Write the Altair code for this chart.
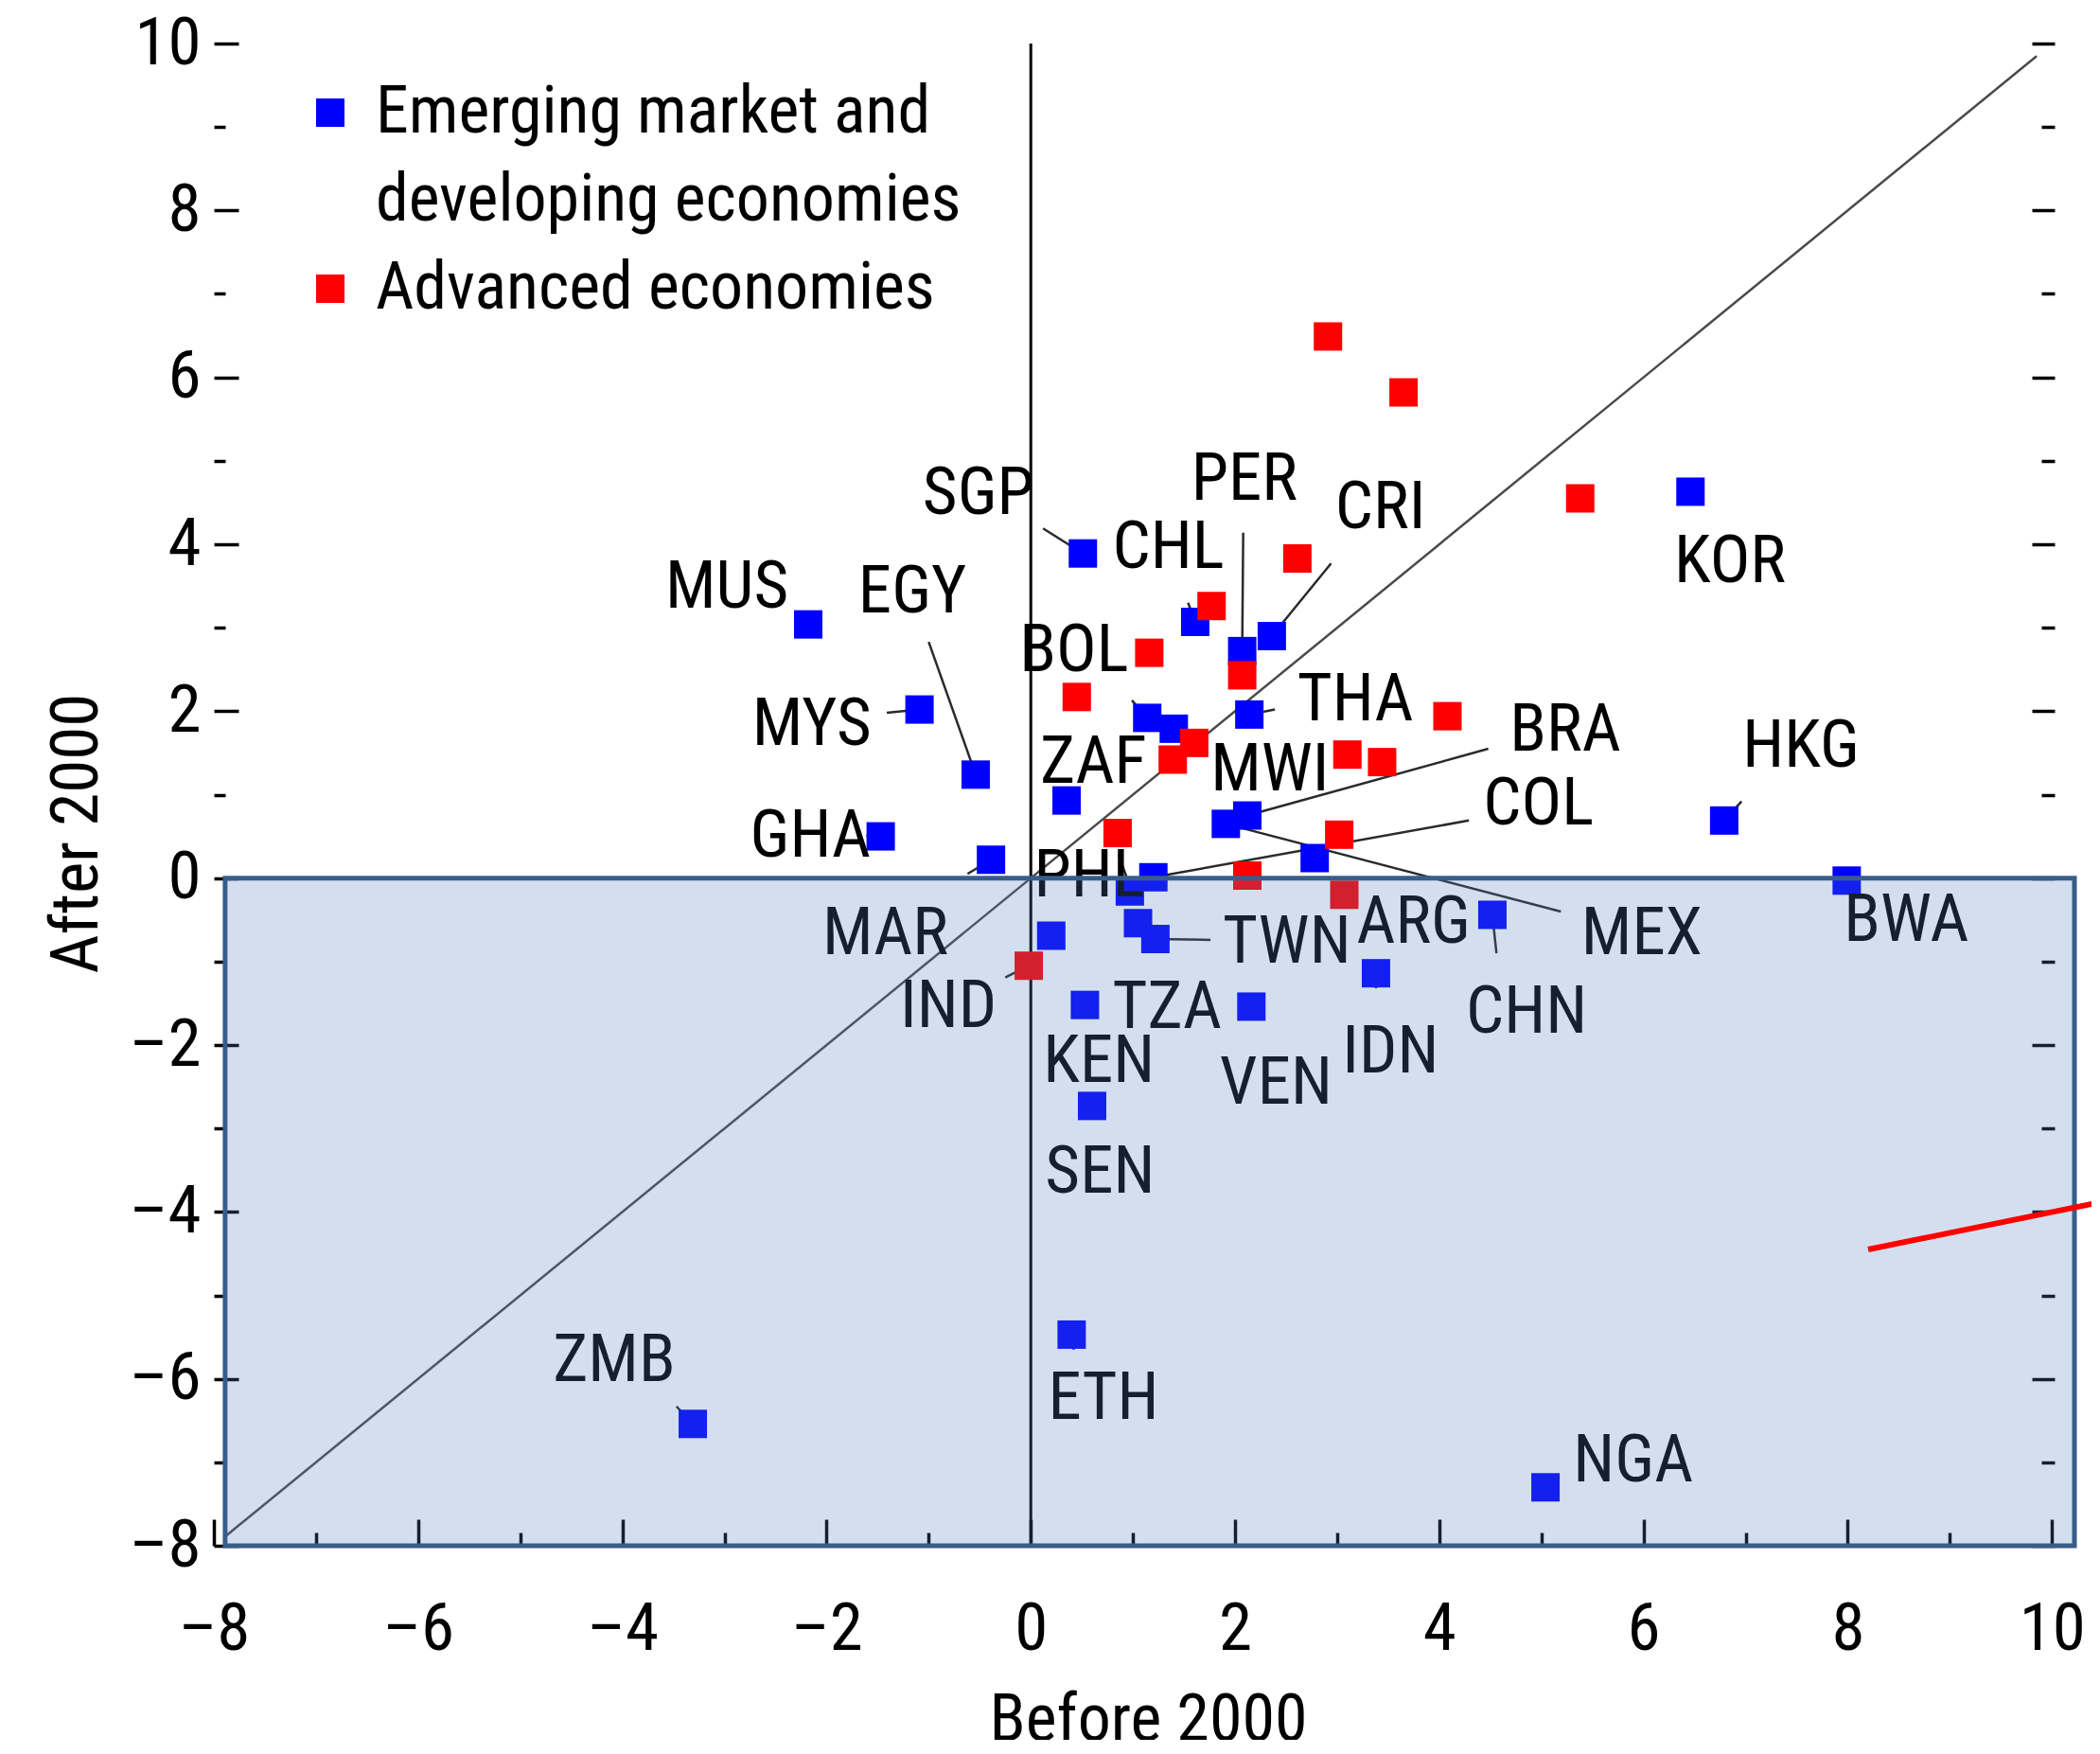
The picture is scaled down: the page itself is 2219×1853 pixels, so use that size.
import altair as alt
import pandas as pd

FONT = "Liberation Sans Narrow, Arial Narrow, Roboto Condensed, DejaVu Sans Condensed, sans-serif"
EM = "Emerging market and developing economies"
AE = "Advanced economies"
SPACER = "developing economies (line 2)"

# Emerging market and developing economies (x = before 2000, y = after 2000)
em_x = [-2.18, -1.09, -0.54, -1.47, -0.39, 0.35, 0.51, 1.61, 2.07, 2.36, 1.14,
        1.40, 2.14, 1.91, 2.12, 2.78, 1.20, 0.97, 1.05, 1.22, 0.20, 0.53, 0.60,
        2.16, 3.38, 4.52, 0.40, -3.31, 5.04, 6.46, 6.79, 7.99]
em_y = [3.04, 2.02, 1.24, 0.50, 0.22, 0.93, 3.89, 3.07, 2.72, 2.90, 1.92,
        1.79, 1.96, 0.65, 0.75, 0.24, 0.01, -0.16, -0.54, -0.73, -0.69, -1.52, -2.73,
        -1.54, -1.14, -0.44, -5.47, -6.54, -7.30, 4.63, 0.69, -0.03]

# Advanced economies
ae_x = [2.91, 3.65, 5.38, 2.61, 1.77, 1.16, 2.07, 0.45, 4.08, 3.10, 3.44,
        1.39, 1.60, 0.85, 3.02, 2.12, 3.07, -0.02]
ae_y = [6.49, 5.82, 4.55, 3.83, 3.26, 2.70, 2.43, 2.17, 1.94, 1.48, 1.39,
        1.42, 1.62, 0.54, 0.52, 0.03, -0.20, -1.05]

# Country labels
lab_text = ["MUS", "EGY", "SGP", "CHL", "PER", "CRI", "BOL", "THA", "ZAF", "MWI",
            "BRA", "COL", "HKG", "KOR", "MYS", "GHA", "MAR", "PHL", "TWN", "ARG",
            "MEX", "BWA", "CHN", "IND", "TZA", "KEN", "VEN", "IDN", "SEN", "ETH",
            "ZMB", "NGA"]
lab_x = [-3.58, -1.69, -1.06, 0.80, 1.57, 2.98, -0.11, 2.61, 0.09, 1.76,
         4.69, 4.43, 6.97, 6.30, -2.73, -2.75, -2.04, 0.03, 1.88, 3.19,
         5.39, 7.96, 4.26, -1.28, 0.80, 0.12, 1.85, 3.05, 0.14, 0.17,
         -4.68, 5.31]
lab_y = [3.48, 3.42, 4.60, 3.95, 4.77, 4.43, 2.72, 2.13, 1.38, 1.29,
         1.76, 0.88, 1.57, 3.79, 1.83, 0.49, -0.67, 0.02, -0.77, -0.54,
         -0.67, -0.51, -1.62, -1.55, -1.56, -2.20, -2.46, -2.09, -3.53, -6.24,
         -5.79, -6.99]

# Leader lines (from point towards label)
lead_x1 = [0.51, -1.09, -0.54, -1.47, -0.39, 2.07, 2.36, 2.14, 1.14, 1.61,
           2.12, 1.20, 1.91, 6.79, 4.52, 1.22, -0.02, 0.97, -3.31, 3.38, 0.40]
lead_y1 = [3.89, 2.02, 1.24, 0.50, 0.22, 2.72, 2.90, 1.96, 1.92, 3.07,
           0.75, 0.01, 0.65, 0.69, -0.44, -0.73, -1.05, -0.10, -6.54, -1.14, -5.47]
lead_x2 = [0.12, -1.41, -1.00, -1.61, -0.62, 2.08, 2.94, 2.39, 0.99, 1.54,
           4.48, 4.29, 5.19, 6.96, 4.56, 1.76, -0.25, 0.86, -3.47, 3.38, 0.42]
lead_y2 = [4.19, 1.98, 2.83, 0.51, 0.05, 4.14, 3.77, 2.02, 2.13, 3.30,
           1.55, 0.69, -0.40, 0.92, -0.90, -0.74, -1.19, 0.28, -6.33, -1.32, -5.65]

diag_x = [-7.9, 9.85]
zero_x = [0.0]
zero_y = [-8.0, 10.0]
box_x = [-7.89, 10.22]
box_y = [-8.0, 0.0]
annot_x = [8.2, 10.45]
annot_y = [-4.45, -3.89]

x_major = list(range(-8, 11, 2))
x_minor = list(range(-7, 10, 2))
y_major = list(range(-8, 11, 2))
y_minor = list(range(-7, 10, 2))

W, H = 1966, 1587
xs = alt.Scale(domain=[-8, 10.22], nice=False, zero=False)
ys = alt.Scale(domain=[-8, 10], nice=False, zero=False)

MINUS_EXPR = "datum.value < 0 ? '\u2013' + abs(datum.value) : datum.label"

pts = pd.DataFrame({
    "x": em_x + ae_x,
    "y": em_y + ae_y,
    "group": [EM] * len(em_x) + [AE] * len(ae_x),
})
labs = pd.DataFrame({"t": lab_text, "x": lab_x, "y": lab_y})
leads = pd.DataFrame({"x": lead_x1, "y": lead_y1, "x2": lead_x2, "y2": lead_y2})
diag = pd.DataFrame({"x": [diag_x[0]], "y": [diag_x[0]], "x2": [diag_x[1]], "y2": [diag_x[1]]})
zero = pd.DataFrame({"x": zero_x, "y": [zero_y[0]], "y2": [zero_y[1]]})
box = pd.DataFrame({"x": [box_x[0]], "x2": [box_x[1]], "y": [box_y[0]], "y2": [box_y[1]]})
annot = pd.DataFrame({"x": [annot_x[0]], "y": [annot_y[0]], "x2": [annot_x[1]], "y2": [annot_y[1]]})

legend = alt.Legend(
    title=None, orient="none", legendX=88, legendY=38, padding=0,
    symbolType="square", symbolSize=900, symbolStrokeWidth=0, symbolOpacity=1,
    labelFont=FONT, labelFontSize=70, labelColor="black", labelLimit=0,
    labelOffset=13, rowPadding=23,
    labelExpr=("datum.label == '" + EM + "' ? 'Emerging market and' : "
               "datum.label == '" + SPACER + "' ? 'developing economies' : datum.label"),
)

points = alt.Chart(pts).mark_square(size=900, opacity=1).encode(
    x=alt.X("x:Q", scale=xs, axis=alt.Axis(
        orient="bottom", values=x_major, ticks=False, tickSize=0, labelPadding=109,
        labelFlush=False, labelBaseline="alphabetic", labelFontSize=71,
        labelExpr=MINUS_EXPR,
        title="Before 2000", titleFontSize=70, titleX=987, titleY=205,
        titleBaseline="alphabetic")),
    y=alt.Y("y:Q", scale=ys, axis=alt.Axis(
        orient="left", values=y_major, offset=-26, tickSize=26, tickWidth=3.5,
        labelPadding=14, labelFontSize=71, labelExpr=MINUS_EXPR,
        title="After 2000", titleFontSize=71,
        titleX=-150, titleY=834, titleBaseline="alphabetic", titleAngle=-90)),
    color=alt.Color("group:N",
                    scale=alt.Scale(domain=[EM, SPACER, AE],
                                    range=["#0000FF", "rgba(255,255,255,0)", "#FF0000"]),
                    legend=legend),
)

labels = alt.Chart(labs).mark_text(align="left", baseline="middle", font=FONT,
                                   fontSize=71, color="black").encode(
    x=alt.X("x:Q", scale=xs, axis=alt.Axis(orient="top", values=x_major, offset=-H,
                                           tickSize=28, tickWidth=3.5, labels=False, title=None)),
    y=alt.Y("y:Q", scale=ys, axis=alt.Axis(orient="left", values=y_minor, offset=-12,
                                           tickSize=12, tickWidth=3.5, labels=False, title=None)),
    text="t:N",
)

leaders = alt.Chart(leads).mark_rule(color="#2a2a2a", strokeWidth=2.5).encode(
    x=alt.X("x:Q", scale=xs, axis=alt.Axis(orient="top", values=x_minor, offset=-H,
                                           tickSize=14, tickWidth=3.5, labels=False, title=None)),
    y=alt.Y("y:Q", scale=ys, axis=alt.Axis(orient="left", values=y_major, offset=-1945,
                                           tickSize=24, tickWidth=3.5, labels=False, title=None)),
    x2="x2:Q", y2="y2:Q",
)

diagonal = alt.Chart(diag).mark_rule(color="#4a4a4a", strokeWidth=2.5).encode(
    x=alt.X("x:Q", scale=xs, axis=None),
    y=alt.Y("y:Q", scale=ys, axis=alt.Axis(orient="left", values=y_minor, offset=-1945,
                                           tickSize=14, tickWidth=3.5, labels=False, title=None)),
    x2="x2:Q", y2="y2:Q",
)

zline = alt.Chart(zero).mark_rule(color="black", strokeWidth=3).encode(
    x=alt.X("x:Q", scale=xs, axis=None),
    y=alt.Y("y:Q", scale=ys, axis=None),
    y2="y2:Q",
)

shade = alt.Chart(box).mark_rect(fill="#4F81BD", fillOpacity=0.25, stroke="#385D8A",
                                 strokeWidth=5, strokeOpacity=1).encode(
    x=alt.X("x:Q", scale=xs, axis=None), x2="x2:Q",
    y=alt.Y("y:Q", scale=ys, axis=None), y2="y2:Q",
)

redline = alt.Chart(annot).mark_rule(color="#FF0000", strokeWidth=6).encode(
    x=alt.X("x:Q", scale=xs, axis=None), x2="x2:Q",
    y=alt.Y("y:Q", scale=ys, axis=None), y2="y2:Q",
)

chart = alt.layer(
    diagonal, zline, leaders, points, labels, shade, redline
).resolve_axis(x="independent", y="independent").properties(
    width=W, height=H,
    autosize=alt.AutoSizeParams(type="none"),
    padding={"left": 218, "top": 38, "right": 18, "bottom": 205},
).configure_view(stroke=None).configure_axis(
    labelFont=FONT, titleFont=FONT, labelColor="black", titleColor="black",
    tickColor="black", domain=False, grid=False, titleFontWeight="normal",
)

chart.save("out.html", embed_options={"renderer": "svg", "actions": False})
